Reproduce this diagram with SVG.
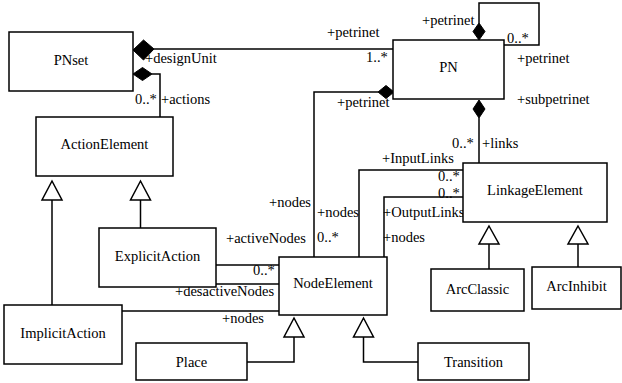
<svg xmlns="http://www.w3.org/2000/svg" width="622" height="383" viewBox="0 0 622 383">
  <style>
    .box { fill: #fff; stroke: #000; stroke-width: 1.5; }
    .edge { fill: none; stroke: #000; stroke-width: 1.5; }
    .dia { fill: #000; stroke: #000; stroke-width: 1; }
    .tri { fill: #fff; stroke: #000; stroke-width: 1.5; }
    text { font-family: 'Liberation Serif', Tinos, 'Times New Roman', Times, 'DejaVu Serif', serif; font-size: 14.5px; fill: #000; }
    .name { text-anchor: middle; }
  </style>
  <rect width="622" height="383" fill="#fff"/>

  <g id="connectors">
    <!-- PNset designUnit -> PN -->
    <path class="edge" d="M154 49 H393"/>
    <path class="dia" d="M133 50 L143.5 40 L154 49 L143.5 60 Z"/>
    <!-- PNset actions -> ActionElement -->
    <path class="edge" d="M152 74 H160 V117"/>
    <path class="dia" d="M133 74 L142.5 67.5 L152 74 L142.5 80.5 Z"/>
    <!-- PN self association -->
    <path class="edge" d="M479 23 V3 H539 V45 H504"/>
    <path class="dia" d="M479 23 L485 31.5 L479 40 L473 31.5 Z"/>
    <!-- PN -> NodeElement -->
    <path class="edge" d="M378 92 H314 V257"/>
    <path class="dia" d="M378 92 L386 85.5 L394 92 L386 98.5 Z"/>
    <!-- PN -> LinkageElement -->
    <path class="edge" d="M479 118 V163"/>
    <path class="dia" d="M479 100 L485 109 L479 118 L473 109 Z"/>
    <!-- InputLinks / OutputLinks -->
    <path class="edge" d="M463 170 H359 V257"/>
    <path class="edge" d="M463 197 H384 V257"/>
    <!-- ExplicitAction / ImplicitAction -> NodeElement -->
    <path class="edge" d="M216 265 H279"/>
    <path class="edge" d="M216 284 H279"/>
    <path class="edge" d="M122 311 H279"/>
    <!-- generalizations to ActionElement -->
    <path class="edge" d="M52 200 V305"/>
    <path class="tri" d="M52 181 L62 200 L42 200 Z"/>
    <path class="edge" d="M140.5 200 V228"/>
    <path class="tri" d="M140.5 181 L150.5 200 L130.5 200 Z"/>
    <!-- generalizations to LinkageElement -->
    <path class="edge" d="M489 244 V269"/>
    <path class="tri" d="M489 226 L499 244 L479 244 Z"/>
    <path class="edge" d="M578 244 V267"/>
    <path class="tri" d="M578 226 L588 244 L568 244 Z"/>
    <!-- generalizations to NodeElement -->
    <path class="edge" d="M247 362 H294 V337"/>
    <path class="tri" d="M294 318 L304 337 L284 337 Z"/>
    <path class="edge" d="M418 362 H363.5 V337"/>
    <path class="tri" d="M363.5 318 L373.5 337 L353.5 337 Z"/>

    <!-- role and multiplicity labels -->
    <text x="145" y="63">+designUnit</text>
    <text x="135" y="104">0..*</text>
    <text x="161" y="104">+actions</text>
    <text x="327" y="37">+petrinet</text>
    <text x="366" y="62">1..*</text>
    <text x="422" y="25">+petrinet</text>
    <text x="507" y="43">0..*</text>
    <text x="517" y="63">+petrinet</text>
    <text x="517" y="104">+subpetrinet</text>
    <text x="337" y="107">+petrinet</text>
    <text x="452" y="148">0..*</text>
    <text x="482" y="148">+links</text>
    <text x="382" y="163">+InputLinks</text>
    <text x="438" y="181">0..*</text>
    <text x="438" y="198">0..*</text>
    <text x="383" y="217">+OutputLinks</text>
    <text x="383" y="242">+nodes</text>
    <text x="317" y="217">+nodes</text>
    <text x="317" y="242">0..*</text>
    <text x="269" y="207">+nodes</text>
    <text x="226" y="243">+activeNodes</text>
    <text x="253" y="275">0..*</text>
    <text x="175" y="296">+desactiveNodes</text>
    <text x="222" y="323">+nodes</text>
  </g>

  <g id="PNset">
    <rect class="box" x="9" y="32" width="124" height="59"/>
    <text class="name" x="71" y="65">PNset</text>
  </g>
  <g id="PN">
    <rect class="box" x="393" y="40" width="111" height="59"/>
    <text class="name" x="448.5" y="72">PN</text>
  </g>
  <g id="ActionElement">
    <rect class="box" x="36" y="117" width="137" height="59"/>
    <text class="name" x="104.5" y="149">ActionElement</text>
  </g>
  <g id="LinkageElement">
    <rect class="box" x="463" y="163" width="144" height="59"/>
    <text class="name" x="535" y="195">LinkageElement</text>
  </g>
  <g id="ExplicitAction">
    <rect class="box" x="99" y="228" width="117" height="59"/>
    <text class="name" x="157.5" y="261">ExplicitAction</text>
  </g>
  <g id="NodeElement">
    <rect class="box" x="279" y="257" width="108" height="58"/>
    <text class="name" x="333" y="288">NodeElement</text>
  </g>
  <g id="ImplicitAction">
    <rect class="box" x="4" y="305" width="118" height="59"/>
    <text class="name" x="63" y="338">ImplicitAction</text>
  </g>
  <g id="ArcClassic">
    <rect class="box" x="431" y="269" width="93" height="42"/>
    <text class="name" x="477.5" y="294">ArcClassic</text>
  </g>
  <g id="ArcInhibit">
    <rect class="box" x="532" y="267" width="89" height="42"/>
    <text class="name" x="576.5" y="291">ArcInhibit</text>
  </g>
  <g id="Place">
    <rect class="box" x="136" y="343" width="111" height="37"/>
    <text class="name" x="191.5" y="367">Place</text>
  </g>
  <g id="Transition">
    <rect class="box" x="418" y="343" width="111" height="37"/>
    <text class="name" x="473.5" y="367">Transition</text>
  </g>
</svg>
